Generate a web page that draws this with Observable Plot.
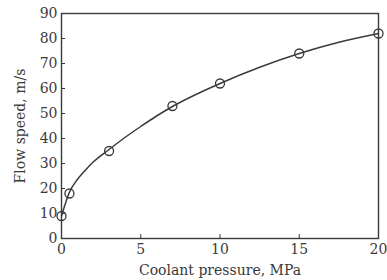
<!DOCTYPE html>
<html>
<head>
<meta charset="utf-8">
<script src="https://cdn.jsdelivr.net/npm/d3@7"></script>
<script src="https://cdn.jsdelivr.net/npm/@observablehq/plot@0.6"></script>
<style>
  html, body { margin: 0; padding: 0; background: #fff; }
  svg { display: block; }
</style>
</head>
<body>
<div id="chart"></div>
<script>
// Measured points
const pressure = [0, 0.5, 3, 7, 10, 15, 20];
const speed = [9, 18, 35, 53, 62, 74, 82];

// Fitted curve
const curvePressure = [0, 0.5, 1, 1.5, 2, 3, 4, 5, 6, 7, 10, 12.5, 15, 17.5, 20];
const curveSpeed = [9, 18.5, 23.6, 27.3, 30.6, 35.6, 40.4, 44.8, 49, 52.8, 62, 68.5, 74, 78.5, 82];

const xTicks = [0, 5, 10, 15, 20];
const yTicks = [0, 10, 20, 30, 40, 50, 60, 70, 80, 90];

const points = pressure.map((p, i) => ({p, v: speed[i]}));
const curve = curvePressure.map((p, i) => ({p, v: curveSpeed[i]}));

const ink = "#3a3a3a";

const chart = Plot.plot({
  width: 387,
  height: 280,
  marginLeft: 61,
  marginRight: 9,
  marginTop: 13,
  marginBottom: 42,
  style: {fontFamily: "DejaVu Serif", fontSize: "13px", color: ink, background: "#fff"},
  x: {domain: [0, 20]},
  y: {domain: [0, 90]},
  marks: [
    Plot.frame({stroke: ink, strokeWidth: 1.4}),
    // inward tick marks
    Plot.axisX({ticks: xTicks, tickSize: -4, tickFormat: null, text: null, label: null, stroke: ink}),
    Plot.axisY({ticks: yTicks, tickSize: -4, tickFormat: null, text: null, label: null, stroke: ink}),
    // labels
    Plot.axisX({ticks: xTicks, tickSize: 0, tickPadding: 6, fontSize: 14, fill: ink,
      label: "Coolant pressure, MPa", labelAnchor: "center", labelOffset: 36, labelArrow: "none"}),
    Plot.axisY({ticks: yTicks, tickSize: 0, tickPadding: 4, fontSize: 14, fill: ink,
      label: "Flow speed, m/s", labelAnchor: "center", labelOffset: 46, labelArrow: "none"}),
    Plot.line(curve, {x: "p", y: "v", curve: "monotone-x", stroke: ink, strokeWidth: 1.5}),
    Plot.dot(points, {x: "p", y: "v", r: 4.5, stroke: ink, strokeWidth: 1.3, fill: "none"})
  ]
});
document.getElementById("chart").appendChild(chart);
</script>
</body>
</html>
